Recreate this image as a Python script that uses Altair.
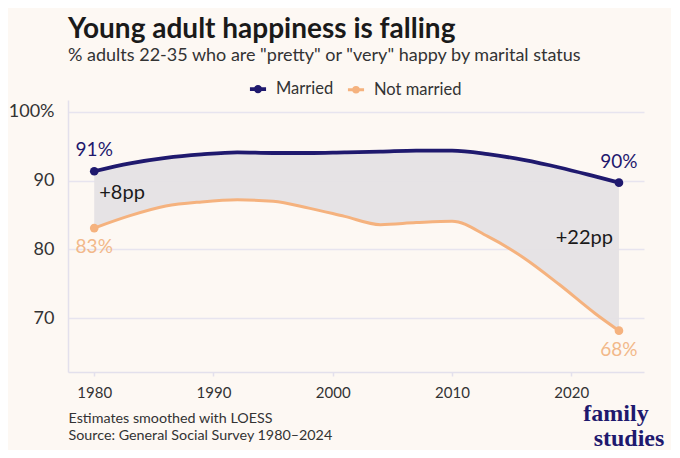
import altair as alt
import pandas as pd

years = [1980, 1983, 1986, 1989, 1992, 1995, 1998, 2001, 2004, 2007, 2010, 2013, 2016, 2019, 2022, 2024]
married = [91.35, 92.5, 93.3, 93.8, 94.1, 94.0, 94.0, 94.1, 94.2, 94.35, 94.35, 93.85, 93.0, 91.9, 90.6, 89.7]
not_married = [83.1, 84.9, 86.3, 86.9, 87.2, 87.0, 86.0, 84.8, 83.6, 83.9, 84.1, 81.9, 78.8, 74.9, 70.7, 68.2]
series = ["Married", "Not married"]
colors = ["#1f196e", "#f5b27e"]
label_colors = ["#1f196e", "#f2b88a"]
x_ticks = [1980, 1990, 2000, 2010, 2020]
y_ticks = [70, 80, 90, 100]
pp_labels = ["+8pp", "+22pp"]
pp_years = [1980, 2024]
pp_values = [88.2, 81.7]
footnote = ["Estimates smoothed with LOESS", "Source: General Social Survey 1980\u20132024"]
logo_words = ["family", "studies"]

long = pd.DataFrame(
    [{"year": y, "value": v, "status": series[0]} for y, v in zip(years, married)]
    + [{"year": y, "value": v, "status": series[1]} for y, v in zip(years, not_married)]
)
wide = pd.DataFrame({"year": years, "married": married, "not_married": not_married})
ends = pd.DataFrame(
    [
        {"year": years[0], "value": married[0], "status": series[0], "label": f"{round(married[0])}%"},
        {"year": years[-1], "value": married[-1], "status": series[0], "label": f"{round(married[-1])}%"},
        {"year": years[0], "value": not_married[0], "status": series[1], "label": f"{round(not_married[0])}%"},
        {"year": years[-1], "value": not_married[-1], "status": series[1], "label": f"{round(not_married[-1])}%"},
    ]
)
pp = pd.DataFrame({"year": pp_years, "value": pp_values, "label": pp_labels})

FONT = "Lato"
xscale = alt.Scale(domain=[1977.8, 2026.1], nice=False, zero=False)
yscale = alt.Scale(domain=[62.2, 101.7], nice=False, zero=False)

x_axis = alt.Axis(
    values=x_ticks, format="d", grid=False, domain=True, domainColor="#e3e0ec", domainWidth=1.5,
    ticks=True, tickColor="#e3e0ec", tickSize=4, tickWidth=1.5, labelFontSize=15, labelPadding=9,
    labelColor="#333333", labelFont=FONT,
    title=footnote, titleAnchor="start", titleAlign="left", titleBaseline="top", titleX=0, titleY=39,
    titleFontSize=14.3, titleFontWeight="normal", titleColor="#333333", titleFont=FONT, titleLineHeight=17,
)
y_axis = alt.Axis(
    values=y_ticks, labelExpr="datum.value == 100 ? '100%' : datum.label", grid=True,
    gridColor="#e7e4ef", gridWidth=1.5, domain=True, domainColor="#e3e0ec", domainWidth=1.5,
    ticks=False, labelFontSize=18, labelPadding=14, labelColor="#333333", labelFont=FONT, title=None,
)

color = alt.Color(
    "status:N",
    scale=alt.Scale(domain=series, range=colors),
    legend=alt.Legend(
        orient="none", legendX=180, legendY=-21, direction="horizontal", title=None,
        labelFontSize=16.5, labelColor="#333333", labelFont=FONT, columnPadding=7,
        symbolType="M-1,0H1M-0.28,0A0.28,0.28 0 1,0 0.28,0A0.28,0.28 0 1,0 -0.28,0",
        symbolSize=260, symbolStrokeWidth=3.5, labelOffset=8,
    ),
)

area = alt.Chart(wide).mark_area(color="#e5e1e4", opacity=0.95, interpolate="monotone").encode(
    x=alt.X("year:Q", scale=xscale, axis=x_axis),
    y=alt.Y("married:Q", scale=yscale, axis=y_axis),
    y2="not_married:Q",
)

lines = alt.Chart(long).mark_line(interpolate="monotone").encode(
    x=alt.X("year:Q", scale=xscale),
    y=alt.Y("value:Q", scale=yscale),
    color=color,
    strokeWidth=alt.StrokeWidth("status:N", scale=alt.Scale(domain=series, range=[3.8, 3.0]), legend=None),
)

points = alt.Chart(ends).mark_circle(size=75, opacity=1).encode(
    x=alt.X("year:Q", scale=xscale),
    y=alt.Y("value:Q", scale=yscale),
    color=alt.Color("status:N", scale=alt.Scale(domain=series, range=colors), legend=None),
)

top_labels = alt.Chart(ends[ends.status == series[0]]).mark_text(
    fontSize=19, font=FONT, dy=-21, color=label_colors[0]
).encode(x=alt.X("year:Q", scale=xscale), y=alt.Y("value:Q", scale=yscale), text="label:N")

bottom_labels = alt.Chart(ends[ends.status == series[1]]).mark_text(
    fontSize=19, font=FONT, dy=19, color=label_colors[1]
).encode(x=alt.X("year:Q", scale=xscale), y=alt.Y("value:Q", scale=yscale), text="label:N")

pp_left = alt.Chart(pp.iloc[[0]]).mark_text(
    fontSize=20, font=FONT, align="left", dx=5, color="#1a1a1a"
).encode(x=alt.X("year:Q", scale=xscale), y=alt.Y("value:Q", scale=yscale), text="label:N")

pp_right = alt.Chart(pp.iloc[[1]]).mark_text(
    fontSize=20, font=FONT, align="right", dx=-6, color="#1a1a1a"
).encode(x=alt.X("year:Q", scale=xscale), y=alt.Y("value:Q", scale=yscale), text="label:N")

logo1 = alt.Chart(pd.DataFrame({"w": [logo_words[0]]})).mark_text(
    font="Liberation Serif", fontWeight="bold", fontSize=24, color="#1f196e", align="center", baseline="alphabetic"
).encode(x=alt.value(548), y=alt.value(321), text="w:N")
logo2 = alt.Chart(pd.DataFrame({"w": [logo_words[1]]})).mark_text(
    font="Liberation Serif", fontWeight="bold", fontSize=24, color="#1f196e", align="center", baseline="alphabetic"
).encode(x=alt.value(561), y=alt.value(346), text="w:N")

chart = alt.layer(area, lines, points, top_labels, bottom_labels, pp_left, pp_right, logo1, logo2).properties(
    width=576,
    height=272,
    autosize=alt.AutoSizeParams(type="none"),
    padding={"left": 60, "top": 92, "right": 27, "bottom": 78},
    background="#fdf8f3",
    title=alt.TitleParams(
        text="Young adult happiness is falling",
        subtitle='% adults 22-35 who are "pretty" or "very" happy by marital status',
        anchor="start", frame="group", offset=14, font=FONT, fontSize=28, fontWeight="bold",
        color="#1a1a1a", subtitleFont=FONT, subtitleFontSize=18, subtitleColor="#333333",
        subtitlePadding=3,
    ),
).configure_view(stroke=None)

chart.save("out.html", embed_options={"renderer": "svg", "actions": False})
